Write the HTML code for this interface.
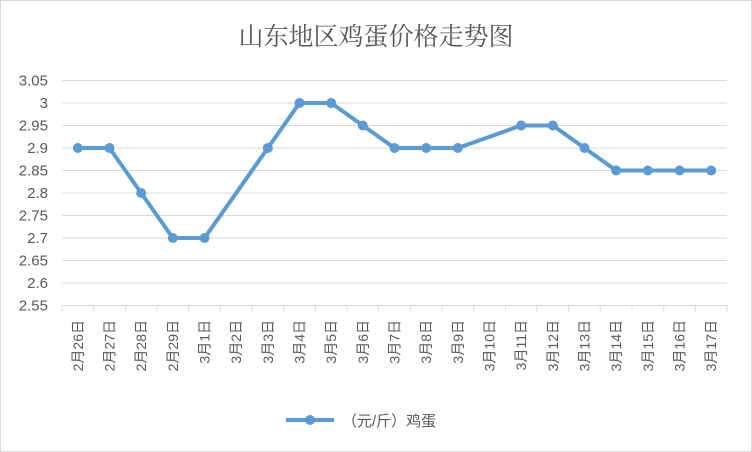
<!DOCTYPE html>
<html><head><meta charset="utf-8"><style>
html,body{margin:0;padding:0;background:#fff}
svg{display:block}
text{font-family:"Liberation Sans","Noto Sans CJK SC",sans-serif}
</style></head><body>
<svg id="chart" width="752" height="452">
<rect x="0.5" y="0.5" width="751" height="451" fill="#fff" stroke="#d9d9d9"/>
<text x="376" y="45" text-anchor="middle" font-size="25" fill="#595959" style="font-family:'Liberation Serif','Noto Serif CJK SC',serif">山东地区鸡蛋价格走势图</text>
<g id="grid"></g><g id="xaxis"></g><g id="series"></g>
<g>
<line x1="286" y1="420" x2="334" y2="420" stroke="#5b9bd5" stroke-width="4"/>
<circle cx="310" cy="420" r="5" fill="#5b9bd5"/>
<text x="342" y="426" font-size="15" fill="#595959">（元/斤）鸡蛋</text>
</g>
</svg>
<script>
const categories=["2月26日","2月27日","2月28日","2月29日","3月1日","3月2日","3月3日","3月4日","3月5日","3月6日","3月7日","3月8日","3月9日","3月10日","3月11日","3月12日","3月13日","3月14日","3月15日","3月16日","3月17日"];
const prices=[2.9,2.9,2.8,2.7,2.7,null,2.9,3.0,3.0,2.95,2.9,2.9,2.9,null,2.95,2.95,2.9,2.85,2.85,2.85,2.85];
const yTicks=["2.55","2.6","2.65","2.7","2.75","2.8","2.85","2.9","2.95","3","3.05"];
const NS="http://www.w3.org/2000/svg";
const plotLeft=62,plotRight=727,plotTop=80.5,plotBottom=305.5,yMin=2.55,yMax=3.05;
const step=(plotRight-plotLeft)/categories.length;
const xs=i=>plotLeft+step*(i+0.5);
const ys=v=>plotBottom-(v-yMin)/(yMax-yMin)*(plotBottom-plotTop);
function mk(tag,attrs,parent){const e=document.createElementNS(NS,tag);for(const k in attrs)e.setAttribute(k,attrs[k]);parent.appendChild(e);return e;}
const grid=document.getElementById('grid');
yTicks.forEach(t=>{
  const v=parseFloat(t);
  const l=mk('line',{x1:plotLeft,x2:plotRight,y1:ys(v),y2:ys(v),stroke:'#d9d9d9','stroke-width':1},grid);
  
  
  const tx=mk('text',{x:48,y:ys(v)+5,'text-anchor':'end','font-size':15,fill:'#595959'},grid);
  tx.textContent=t;
  
  
});
const xa=document.getElementById('xaxis');
for(let i=0;i<=categories.length;i++){
  const xx=plotLeft+step*i;
  const tk=mk('line',{x1:xx,x2:xx,y1:plotBottom,y2:plotBottom+6,stroke:'#d9d9d9'},xa);
  
  
}
categories.forEach((c,i)=>{
  const t=mk('text',{transform:`translate(${xs(i)+5},320) rotate(-90)`,'text-anchor':'end','font-size':14,fill:'#595959'},xa);
  t.textContent=c;
  
  
});
const s=document.getElementById('series');
const pts=[];prices.forEach((v,i)=>{if(v!==null)pts.push([xs(i),ys(v)]);});
const pl=mk('polyline',{points:pts.map(p=>p.join(',')).join(' '),fill:'none',stroke:'#5b9bd5','stroke-width':4,'stroke-linejoin':'round'},s);


pts.forEach(p=>{
  const c=mk('circle',{cx:p[0],cy:p[1],r:5,fill:'#5b9bd5'},s);
  
  
});
</script>
</body></html>
